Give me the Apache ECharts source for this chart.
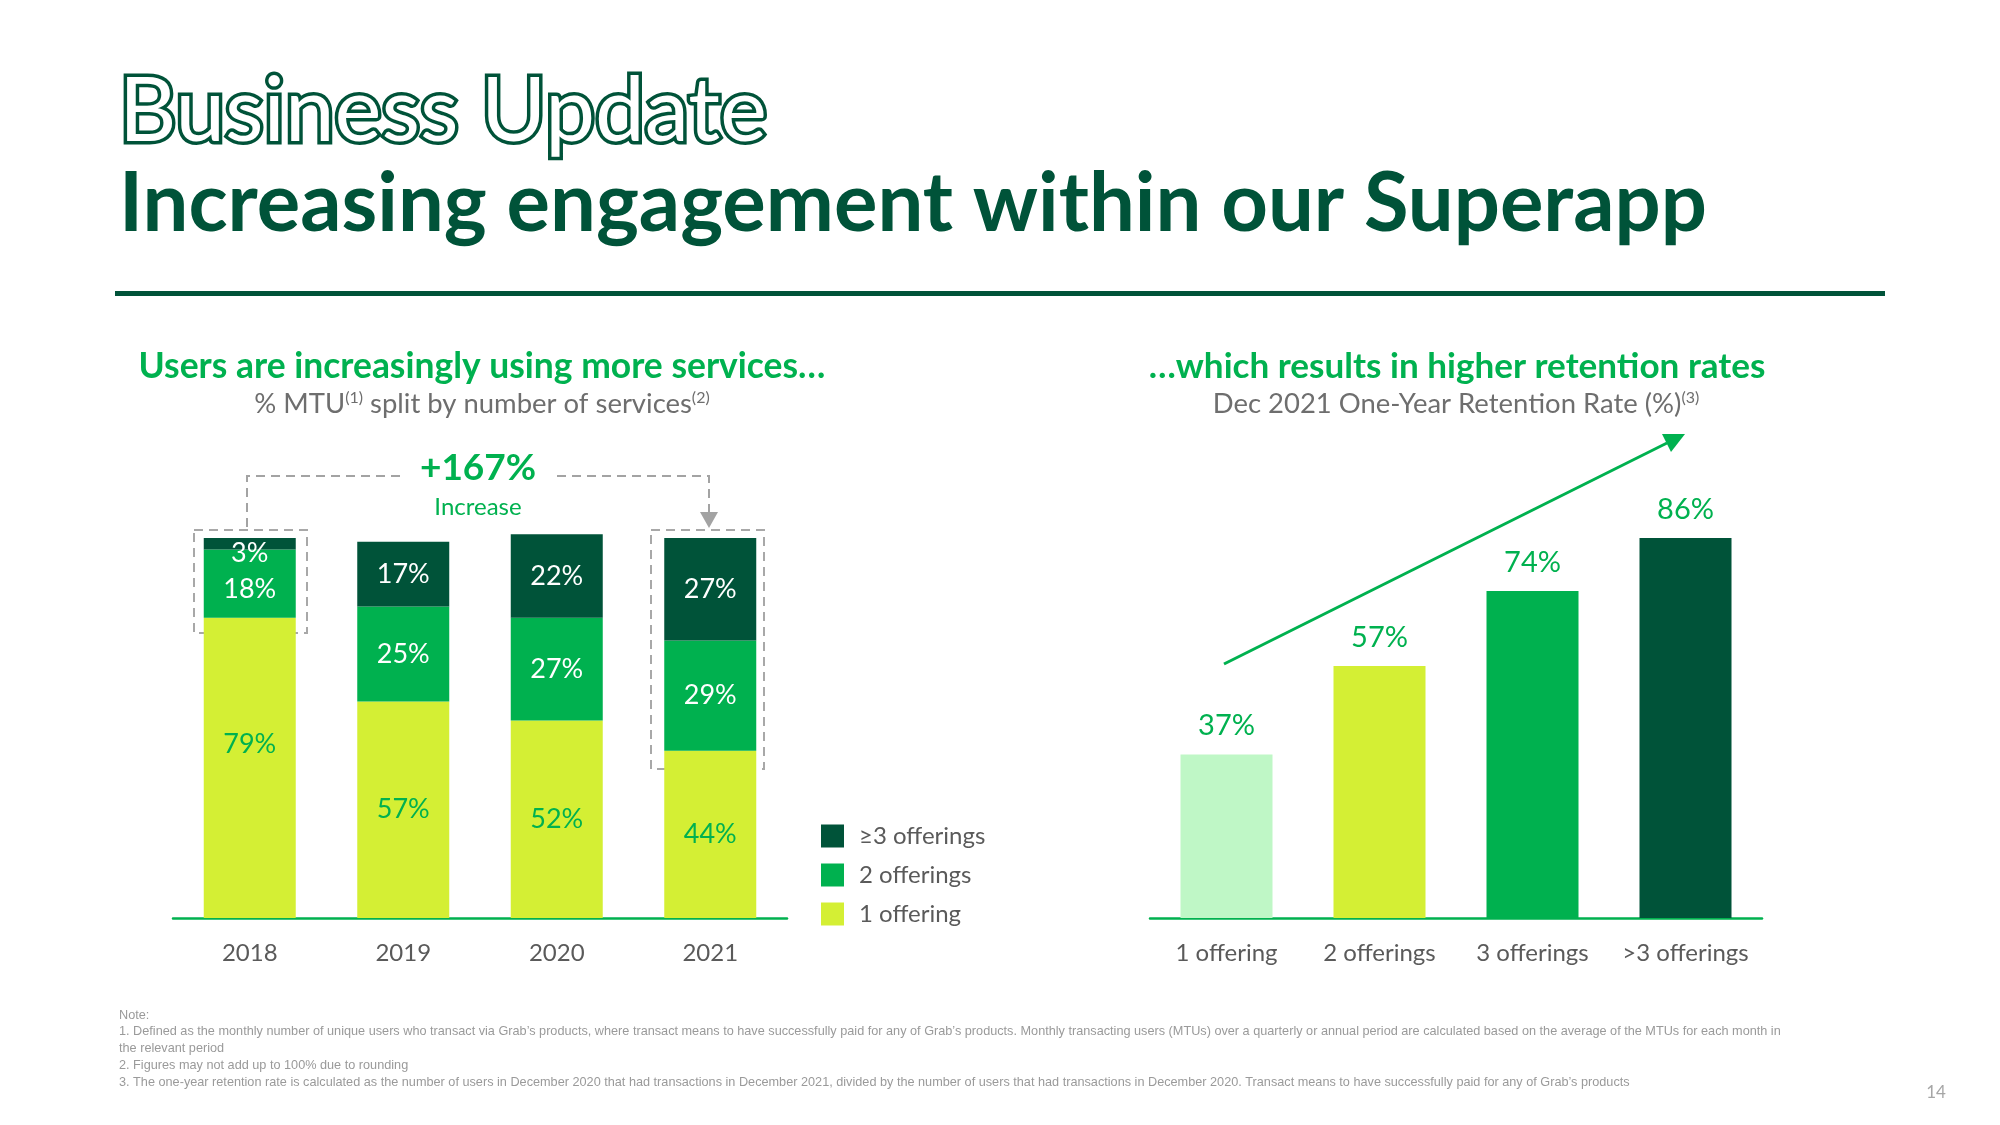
<!DOCTYPE html>
<html><head><meta charset="utf-8">
<script src="https://cdn.jsdelivr.net/npm/echarts@6/dist/echarts.min.js"></script>
<style>html,body{margin:0;padding:0;background:#fff}#c{width:2000px;height:1125px}</style>
</head><body><div id="c"></div>
<script>
// ---------- data ----------
const years = ['2018', '2019', '2020', '2021'];
const oneOffering = [79, 57, 52, 44];
const twoOfferings = [18, 25, 27, 29];
const threePlusOfferings = [3, 17, 22, 27];
const legendNames = ['≥3 offerings', '2 offerings', '1 offering'];
const retentionCats = ['1 offering', '2 offerings', '3 offerings', '>3 offerings'];
const retentionRates = [37, 57, 74, 86];
const increaseText = '+167%';

// ---------- style ----------
const FONT = 'Lato, "Open Sans", sans-serif';
const DARK = '#005339', GREEN = '#00b14f', LIME = '#d4ef34', MINT = '#bff7c6';
const GRAY = '#5a5a5a';

function fit(text, weight, family, targetW) {
  const ctx = document.createElement('canvas').getContext('2d');
  ctx.font = weight + ' 100px ' + family;
  return 100 * targetW / ctx.measureText(text).width;
}

const t1 = 'Business Update';
const t2 = 'Increasing engagement within our Superapp';
const t1Size = fit(t1, '400', FONT, 648);
const t2Size = fit(t2, 'bold', FONT, 1588);
const s1 = 'Users are increasingly using more services\u2026';
const s2 = '\u2026which results in higher retention rates';
const s1Size = fit(s1, 'bold', FONT, 687);
const s2Size = fit(s2, 'bold', FONT, 617);
const subSize = fit('% MTU split by number of services', '400', FONT, 420);
const notes = [
  'Note:',
  '1. Defined as the monthly number of unique users who transact via Grab\u2019s products, where transact means to have successfully paid for any of Grab\u2019s products. Monthly transacting users (MTUs) over a quarterly or annual period are calculated based on the average of the MTUs for each month in',
  'the relevant period',
  '2. Figures may not add up to 100% due to rounding',
  '3. The one-year retention rate is calculated as the number of users in December 2020 that had transactions in December 2021, divided by the number of users that had transactions in December 2020. Transact means to have successfully paid for any of Grab\u2019s products'
];
const noteFont = '"Liberation Sans Narrow", "Liberation Sans", sans-serif';
const noteSize = fit(notes[1], '400', noteFont, 1664);
const noteY = [1015, 1031, 1048, 1065, 1082];

const supRich = {s:{fontSize:16, fill:'#6e6e6e', verticalAlign:'top', padding:[0,0,12,0], fontFamily:FONT}};
const graphics = [
  // title 1 (inline style)
  {type:'text', x:119, y:112, style:{text:t1, font:'400 ' + t1Size + 'px ' + FONT, fill:DARK, stroke:DARK, lineWidth:7, textVerticalAlign:'middle'}},
  {type:'text', x:119, y:112, style:{text:t1, font:'400 ' + t1Size + 'px ' + FONT, fill:'#fff', textVerticalAlign:'middle'}},
  {type:'text', x:119, y:205, style:{text:t2, font:'bold ' + t2Size + 'px ' + FONT, fill:DARK, textVerticalAlign:'middle'}},
  {type:'rect', shape:{x:115, y:291, width:1770, height:5}, style:{fill:DARK}},
  // subtitles
  {type:'text', x:482, y:367, style:{text:s1, font:'bold ' + s1Size + 'px ' + FONT, fill:GREEN, textAlign:'center', textVerticalAlign:'middle'}},
  {type:'text', x:482, y:404, style:{text:'% MTU{s|(1)} split by number of services{s|(2)}', font:subSize + 'px ' + FONT, fill:'#6e6e6e', textAlign:'center', textVerticalAlign:'middle', rich:supRich}},
  {type:'text', x:1457, y:367, style:{text:s2, font:'bold ' + s2Size + 'px ' + FONT, fill:GREEN, textAlign:'center', textVerticalAlign:'middle'}},
  {type:'text', x:1456, y:404, style:{text:'Dec 2021 One-Year Retention Rate (%){s|(3)}', font:subSize + 'px ' + FONT, fill:'#6e6e6e', textAlign:'center', textVerticalAlign:'middle', rich:supRich}},
  // +167% annotation
  {type:'text', x:478, y:468, style:{text:increaseText, font:'bold 37px ' + FONT, fill:GREEN, textAlign:'center', textVerticalAlign:'middle'}},
  {type:'text', x:478, y:507, style:{text:'Increase', font:'24px ' + FONT, fill:GREEN, textAlign:'center', textVerticalAlign:'middle'}},
  {type:'polyline', shape:{points:[[247,527],[247,476],[405,476]]}, style:{stroke:'#a3a3a3', lineWidth:2, lineDash:[9,6], fill:null}},
  {type:'polyline', shape:{points:[[557,476],[709,476],[709,512]]}, style:{stroke:'#a3a3a3', lineWidth:2, lineDash:[9,6], fill:null}},
  {type:'polygon', shape:{points:[[700,512],[718,512],[709,528]]}, style:{fill:'#a3a3a3'}},
  {type:'rect', shape:{x:194, y:530, width:113, height:103}, style:{stroke:'#a8a8a8', lineWidth:2, lineDash:[9,6], fill:null}},
  {type:'rect', shape:{x:651, y:530, width:113, height:239}, style:{stroke:'#a8a8a8', lineWidth:2, lineDash:[9,6], fill:null}},
  // trend arrow
  {type:'line', shape:{x1:1224, y1:664, x2:1667, y2:443}, style:{stroke:GREEN, lineWidth:3}},
  {type:'polygon', shape:{points:[[1685,434],[1671,452],[1662,434]]}, style:{fill:GREEN}},
  // page number
  {type:'text', x:1936, y:1093, style:{text:'14', font:'17px ' + FONT, fill:'#a6a6a6', textAlign:'center', textVerticalAlign:'middle'}}
];
notes.forEach((n, i) => graphics.push({type:'text', x:119, y:noteY[i], style:{text:n, font:noteSize + 'px ' + noteFont, fill:'#9a9a9a', textVerticalAlign:'middle'}}));

const labelBase = {show:true, position:'inside', fontSize:27, fontFamily:FONT};
const axisLabelStyle = {fontSize:24, color:GRAY, margin:23, fontFamily:FONT, interval:0};
const chart = echarts.init(document.getElementById('c'));
chart.setOption({
  animation:false,
  backgroundColor:'#fff',
  legend:{
    data:legendNames, orient:'vertical', left:816, top:819, itemWidth:23, itemHeight:23, itemGap:15, icon:'rect',
    textStyle:{fontSize:24, color:GRAY, fontFamily:FONT, padding:[0,0,0,10]}
  },
  grid:[
    {left:173, width:614, top:500, height:418},
    {left:1150, width:612, top:476, height:442}
  ],
  xAxis:[
    {gridIndex:0, type:'category', data:years, axisLine:{lineStyle:{color:GREEN, width:2.5}}, axisTick:{show:false}, axisLabel:axisLabelStyle},
    {gridIndex:1, type:'category', data:retentionCats, axisLine:{lineStyle:{color:GREEN, width:2.5}}, axisTick:{show:false}, axisLabel:axisLabelStyle}
  ],
  yAxis:[
    {gridIndex:0, type:'value', min:0, max:110, show:false},
    {gridIndex:1, type:'value', min:0, max:100, show:false}
  ],
  series:[
    {name:'1 offering', type:'bar', stack:'a', xAxisIndex:0, yAxisIndex:0, barWidth:92, itemStyle:{color:LIME},
     label:Object.assign({}, labelBase, {color:GREEN, formatter:'{c}%'}),
     data:oneOffering.map((v, i) => i === 0 ? {value:v, label:{offset:[0,-24]}} : v)},
    {name:'2 offerings', type:'bar', stack:'a', xAxisIndex:0, yAxisIndex:0, barWidth:92, itemStyle:{color:GREEN},
     label:Object.assign({}, labelBase, {color:'#fff', formatter:'{c}%'}),
     data:twoOfferings.map((v, i) => i === 0 ? {value:v, label:{offset:[0,6]}} : v)},
    {name:'≥3 offerings', type:'bar', stack:'a', xAxisIndex:0, yAxisIndex:0, barWidth:92, itemStyle:{color:DARK},
     label:Object.assign({}, labelBase, {color:'#fff', formatter:'{c}%'}),
     data:threePlusOfferings.map((v, i) => i === 0 ? {value:v, label:{offset:[0,10]}} : v)},
    {name:'retention', type:'bar', xAxisIndex:1, yAxisIndex:1, barWidth:92,
     label:{show:true, position:'top', distance:14, color:GREEN, fontSize:29, fontFamily:FONT, formatter:'{c}%'},
     data:retentionRates.map((v, i) => ({value:v, itemStyle:{color:[MINT, LIME, GREEN, DARK][i]}}))}
  ],
  graphic:graphics
});
</script></body></html>
